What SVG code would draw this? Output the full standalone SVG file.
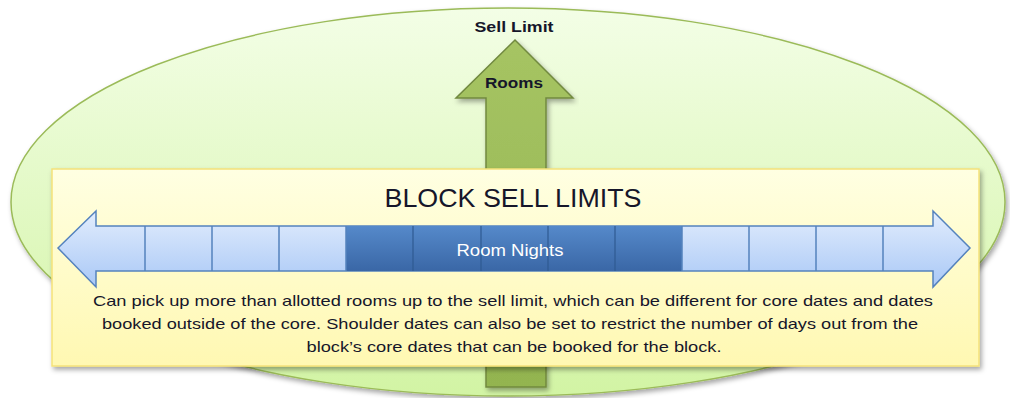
<svg xmlns="http://www.w3.org/2000/svg" width="1010" height="398" viewBox="0 0 1010 398">
<defs>
<linearGradient id="gEll" x1="0" y1="0" x2="0" y2="1"><stop offset="0" stop-color="#F3FEE6"/><stop offset="1" stop-color="#D2F4A4"/></linearGradient>
<linearGradient id="gBox" x1="0" y1="0" x2="0" y2="1"><stop offset="0" stop-color="#FFFFE2"/><stop offset="1" stop-color="#FFF8B2"/></linearGradient>
<linearGradient id="gGreen" x1="0" y1="0" x2="0" y2="1"><stop offset="0" stop-color="#A6C463"/><stop offset="1" stop-color="#93B450"/></linearGradient>
<linearGradient id="gLight" x1="0" y1="0" x2="0" y2="1"><stop offset="0" stop-color="#E2EDFD"/><stop offset="1" stop-color="#A9C8F6"/></linearGradient>
<linearGradient id="gDark" x1="0" y1="0" x2="0" y2="1"><stop offset="0" stop-color="#5589CA"/><stop offset="1" stop-color="#3A67A6"/></linearGradient>
<filter id="sh" x="-5%" y="-5%" width="110%" height="115%"><feDropShadow dx="2" dy="3" stdDeviation="2.5" flood-color="#000" flood-opacity="0.35"/></filter>
</defs>
<style>
.t{font-family:"Liberation Sans",Arial,sans-serif;fill:#16162a;text-anchor:middle}
.b{font-weight:bold}
.div{stroke:#5482BD;stroke-width:1.5;fill:none}
.ddiv{stroke:#2F5A92;stroke-width:1.2;fill:none}
</style>
<g id="ellipse"><ellipse cx="508" cy="202" rx="497" ry="194" fill="url(#gEll)" stroke="#9BBB59" stroke-width="1.5" filter="url(#sh)"/></g>
<g id="sell-arrow">
<path d="M515,40 L573,98 L546,98 L546,387 L486,387 L486,98 L456,98 Z" fill="url(#gGreen)" stroke="#71893F" stroke-width="1.5" filter="url(#sh)"/>
<text class="t b" x="514" y="32" font-size="15" textLength="79" lengthAdjust="spacingAndGlyphs">Sell Limit</text>
<text class="t b" x="514" y="88" font-size="15" textLength="58" lengthAdjust="spacingAndGlyphs">Rooms</text>
</g>
<g id="block-box">
<rect x="52" y="169" width="927" height="197" fill="url(#gBox)" stroke="#F5E27A" stroke-width="1.5" filter="url(#sh)"/>
<text class="t" x="513" y="207" font-size="26" textLength="257" lengthAdjust="spacingAndGlyphs">BLOCK SELL LIMITS</text>
</g>
<g id="room-arrow">
<path d="M58,248 L96,211 L96,226 L933,226 L933,211 L970,248 L933,287 L933,271 L96,271 L96,287 Z" fill="url(#gLight)" stroke="#5482BD" stroke-width="1.5"/>
<rect x="346" y="226" width="336" height="45" fill="url(#gDark)"/>
<path class="div" d="M145,226V271M212,226V271M279,226V271M749,226V271M816,226V271M883,226V271"/>
<path class="ddiv" d="M413,226V271M481,226V271M548,226V271M615,226V271"/>
<path class="div" d="M346,226V271M682,226V271"/>
<text class="t" x="510" y="256" font-size="16" textLength="107" lengthAdjust="spacingAndGlyphs" style="fill:#ffffff">Room Nights</text>
</g>
<g id="description">
<text class="t" x="513" y="306" font-size="15" textLength="840" lengthAdjust="spacingAndGlyphs">Can pick up more than allotted rooms up to the sell limit, which can be different for core dates and dates</text>
<text class="t" x="510" y="329" font-size="15" textLength="816" lengthAdjust="spacingAndGlyphs">booked outside of the core. Shoulder dates can also be set to restrict the number of days out from the</text>
<text class="t" x="514" y="352" font-size="15" textLength="415" lengthAdjust="spacingAndGlyphs">block’s core dates that can be booked for the block.</text>
</g>
</svg>
